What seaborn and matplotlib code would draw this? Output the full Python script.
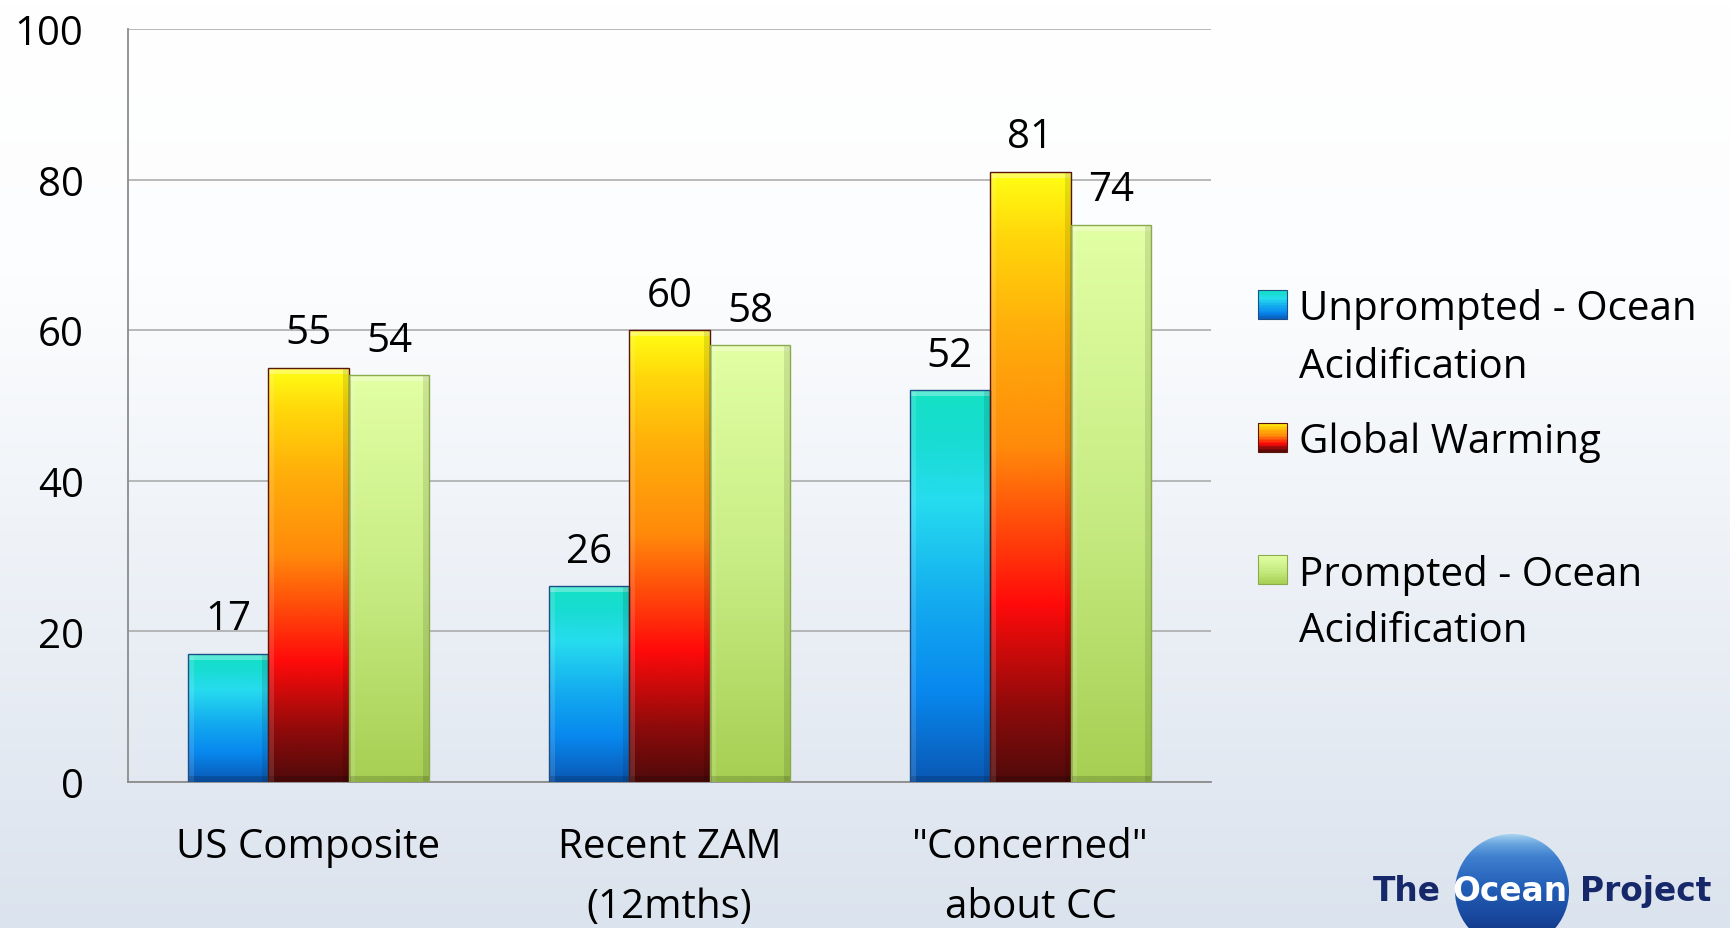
import numpy as np
import pandas as pd
import matplotlib
matplotlib.use("Agg")
import matplotlib.pyplot as plt
import seaborn as sns
from matplotlib.colors import LinearSegmentedColormap
from matplotlib.patches import Rectangle, Circle
from matplotlib.legend_handler import HandlerBase
from matplotlib.font_manager import FontProperties

# ---- data ----
categories = ["US Composite", "Recent ZAM\n(12mths)", "\"Concerned\"\nabout CC"]
series_names = ["Unprompted - Ocean\nAcidification", "Global Warming\n", "Prompted - Ocean\nAcidification"]
unprompted_ocean_acidification = [17, 26, 52]
global_warming = [55, 60, 81]
prompted_ocean_acidification = [54, 58, 74]
y_ticks = [0, 20, 40, 60, 80, 100]

W, H, DPI = 1731, 929, 100
FONT = "Open Sans"
FS = 29

sns.set_theme(style="white")
plt.rcParams["font.family"] = [FONT, "DejaVu Sans"]

values_by_series = [unprompted_ocean_acidification, global_warming, prompted_ocean_acidification]
df = pd.DataFrame([{"category": c, "series": s, "value": v}
                   for s, vals in zip(series_names, values_by_series)
                   for c, v in zip(categories, vals)])

# vertical colour ramps for each series, bottom -> top
cmaps = [
    LinearSegmentedColormap.from_list("unprompted", [
        (0.0, "#0a58b4"), (0.23, "#0888ee"), (0.44, "#12a8f0"), (0.72, "#26dcee"),
        (0.88, "#18dcd2"), (1.0, "#14e2c4")]),
    LinearSegmentedColormap.from_list("warming", [
        (0.0, "#500a0a"), (0.12, "#8e0a0a"), (0.29, "#ff0a0a"), (0.42, "#ff4a0a"),
        (0.55, "#ff8a0a"), (0.75, "#ffb00a"), (0.9, "#ffd80a"), (1.0, "#ffff14")]),
    LinearSegmentedColormap.from_list("prompted", [
        (0.0, "#a6cf52"), (0.5, "#c8ec84"), (1.0, "#e2ffa4")]),
]
edge_colors = ["#1b4f86", "#5a140a", "#8aab4c"]
base_colors = [cmaps[i](0.5) for i in range(3)]

fig = plt.figure(figsize=(W / DPI, H / DPI), dpi=DPI)
renderer = fig.canvas.get_renderer()

# ---- page background (pixel coordinates, y downwards) ----
bg = fig.add_axes([0, 0, 1, 1], zorder=-5)
bg.axis("off")
ramp = np.linspace(0, 1, 256)[:, None]
bg_cmap = LinearSegmentedColormap.from_list("bg", [(0, "#ffffff"), (0.3, "#fcfdfe"), (1, "#dbe3ee")])
bg.imshow(ramp, extent=[0, W, H, 0], cmap=bg_cmap, aspect="auto", zorder=0)

# logo: blue globe with the project name
globe = Circle((1512, 892), 57, facecolor="none", edgecolor="none", zorder=1)
bg.add_patch(globe)
globe_cmap = LinearSegmentedColormap.from_list("globe", [
    (0, "#a8d4f0"), (0.08, "#6aa6e0"), (0.2, "#3f7fcf"), (0.45, "#2460b8"), (0.7, "#1a4aa0"), (1, "#0b2a78")])
gim = bg.imshow(ramp, extent=[1455, 1569, 949, 835], cmap=globe_cmap, aspect="auto", zorder=1)
gim.set_clip_path(globe)
logo_kw = dict(fontsize=23.7, fontweight="heavy", family="DejaVu Sans", va="baseline", ha="left", zorder=3)
bg.text(1373, 901, "The", color="#16286a", **logo_kw)
bg.text(1452, 901, "Ocean", color="white", **logo_kw)
bg.text(1580, 901, "Project", color="#16286a", **logo_kw)
bg.set_xlim(0, W)
bg.set_ylim(H, 0)

# ---- bar chart ----
ax = fig.add_axes([128 / W, 1 - 783 / H, (1211 - 128) / W, (783 - 30) / H])
ax.set_facecolor("none")
sns.barplot(data=df, x="category", y="value", hue="series", order=categories,
            hue_order=series_names, palette=base_colors, width=0.67, saturation=1,
            legend=False, ax=ax, zorder=3)

px_x = 3.0 / (1211 - 128)   # one pixel in x data units
px_y = 100.0 / (783 - 30)   # one pixel in y data units
for i, cont in enumerate(ax.containers):
    for bar in cont:
        x, w, h = bar.get_x(), bar.get_width(), bar.get_height()
        bar.set_facecolor("none")
        bar.set_edgecolor(edge_colors[i])
        bar.set_linewidth(1.0)
        im = ax.imshow(ramp, extent=[x, x + w, 0, h], origin="lower", cmap=cmaps[i],
                       aspect="auto", zorder=2.8, interpolation="bilinear")
        im.set_clip_path(bar)
        # bevelled rim
        bw, bh = 6 * px_x, 6 * px_y
        ax.add_patch(Rectangle((x, h - bh), w, bh, facecolor="white", alpha=0.30, lw=0, zorder=2.9))
        ax.add_patch(Rectangle((x, 0), bw, h, facecolor="white", alpha=0.12, lw=0, zorder=2.9))
        ax.add_patch(Rectangle((x + w - bw, 0), bw, h, facecolor="black", alpha=0.10, lw=0, zorder=2.9))
        ax.add_patch(Rectangle((x, 0), w, bh, facecolor="black", alpha=0.15, lw=0, zorder=2.9))
    ax.bar_label(cont, labels=[f"{v:g}" for v in cont.datavalues], padding=10.5,
                 fontsize=FS, color="black", zorder=4)

ax.set_xlim(-0.5, 2.5)
ax.set_ylim(0, 100)
ax.set_yticks(y_ticks)
ax.set_xlabel("")
ax.set_ylabel("")
ax.yaxis.grid(True, color="#a6a6a6", linewidth=1.1)
ax.xaxis.grid(False)
ax.set_axisbelow(True)
for s in ["top", "right"]:
    ax.spines[s].set_visible(False)
for s in ["left", "bottom"]:
    ax.spines[s].set_color("#8c8c8c")
    ax.spines[s].set_linewidth(1.3)
ax.tick_params(axis="both", length=0, labelsize=FS, colors="black")
ax.tick_params(axis="y", pad=32)
ax.tick_params(axis="x", pad=32)

# line metrics of the text font, in pixels
fp = FontProperties(family=FONT, size=FS)
_, lp_h, lp_d = renderer.get_text_width_height_descent("lp", fp, ismath=False)
line_step = 57.0
ls = (line_step - lp_d) / (lp_h - lp_d)
for t in ax.get_xticklabels():
    t.set_linespacing((line_step + 3 - lp_d) / (lp_h - lp_d))


# ---- legend with shaded squares next to the first line of each label ----
class ShadedSquare(HandlerBase):
    def __init__(self, cmap, edge, lift):
        super().__init__()
        self.cmap, self.edge, self.lift = cmap, edge, lift

    def create_artists(self, legend, orig_handle, xdescent, ydescent, width, height, fontsize, trans):
        size = width
        x0, y0 = -xdescent, self.lift
        n = 20
        arts = []
        for k in range(n):
            arts.append(Rectangle((x0, y0 + k * size / n), size, size / n * 1.08,
                                  facecolor=self.cmap((k + 0.5) / n), edgecolor="none", transform=trans))
        arts.append(Rectangle((x0, y0), size, size, facecolor="none", edgecolor=self.edge,
                              linewidth=0.8, transform=trans))
        return arts


proxies = [Rectangle((0, 0), 1, 1) for _ in series_names]
# legend text boxes are centred on the handle; lift the square to the first line
lift_pt = (0.5 * line_step + 0.5 * lp_d) * 72 / DPI
handler_map = {p: ShadedSquare(cmaps[i], edge_colors[i], lift_pt) for i, p in enumerate(proxies)}
square_pt = 29 * 72 / DPI
sep_px = 75 - lp_h
top_px = 320 - (lp_h - lp_d)
leg = ax.legend(proxies, series_names, handler_map=handler_map, loc="upper left",
                bbox_to_anchor=(1258 / W, 1 - top_px / H), bbox_transform=fig.transFigure,
                frameon=False, borderpad=0, borderaxespad=0, fontsize=FS,
                handlelength=square_pt / FS, handletextpad=(12 * 72 / DPI) / FS,
                labelspacing=(sep_px * 72 / DPI) / FS)
for t in leg.get_texts():
    t.set_linespacing(ls)
    t.set_color("black")

fig.savefig("out.png", dpi=DPI)
